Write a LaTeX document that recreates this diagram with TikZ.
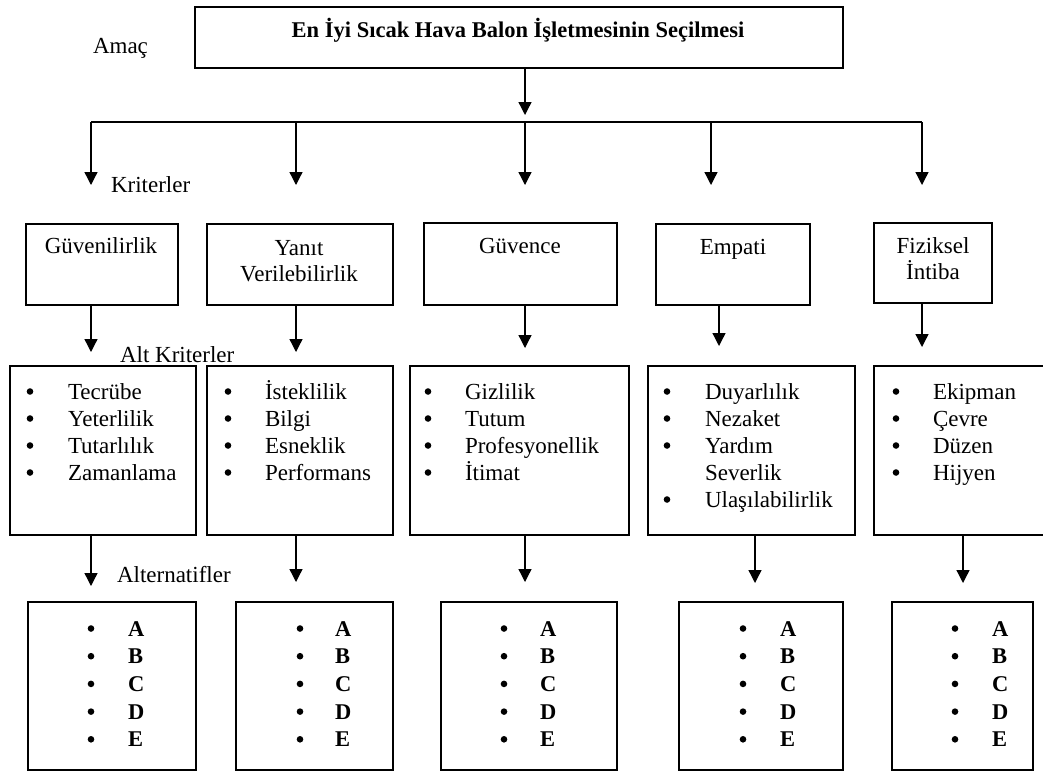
\documentclass[tikz,border=0pt]{standalone}
\usepackage{fontspec}
\setmainfont{Liberation Serif}
\usetikzlibrary{arrows.meta}

% box from (x1,y1) to (x2,y2), y grows downwards
\newcommand\ahpbox[5]{%
  \node[box,anchor=north west,minimum width={#4pt-#2pt},minimum height={#5pt-#3pt}] (#1) at (#2,#3) {};}
% list bullet, centred a little above the baseline #2
\newcommand\ahpdot[2]{\fill (#1,{#2-7.5}) circle (3.3);}

\tikzset{
  box/.style={draw,line width=1.5pt,inner sep=0pt,outer sep=0pt},
  txt/.style={inner sep=0pt,outer sep=0pt,anchor=base,font=\fontsize{23}{27}\selectfont},
  lbl/.style={txt,anchor=base west},
  bold/.style={font=\fontsize{22.5}{27}\selectfont\bfseries},
  arr/.style={line width=1.3pt,-{Triangle[length=13pt,width=13pt]}},
  link/.style={line width=1.3pt}
}

\begin{document}
\begin{tikzpicture}[x=1pt,y=-1pt]
\useasboundingbox (0,0) rectangle (1043,772);
\clip (0,0) rectangle (1043,772);

% goal
\ahpbox{goal}{195}{7}{843}{68}
\node[txt,bold] (goalt) at (518,37) {En İyi Sıcak Hava Balon İşletmesinin Seçilmesi};
\node[lbl] (amac) at (93,53) {Amaç};

% criteria boxes
\ahpbox{c1}{26}{224}{178}{305}
\ahpbox{c2}{207}{224}{393}{305}
\ahpbox{c3}{424}{223}{617}{305}
\ahpbox{c4}{656}{224}{810}{305}
\ahpbox{c5}{874}{223}{992}{303}
\node[txt] (c1t) at (101,253) {Güvenilirlik};
\node[txt] (c2t) at (299,255) {Yanıt};
\node[txt] (c2u) at (299,281) {Verilebilirlik};
\node[txt] (c3t) at (520,253) {Güvence};
\node[txt] (c4t) at (733,254) {Empati};
\node[txt] (c5t) at (933,253) {Fiziksel};
\node[txt] (c5u) at (933,279) {İntiba};
\node[lbl] (krit) at (111,192) {Kriterler};

% goal to criteria
\coordinate (bus) at (525,122);
\draw[arr] (goal.south -| bus) -- (525,115);
\coordinate (busL) at (91,122);
\coordinate (busR) at (922,122);
\draw[link] (busL) -- (busR);
\foreach \x in {91,296,525,711,922}
  \draw[arr] (\x,122) -- (\x,185);

% sub-criteria boxes
\ahpbox{s1}{10}{366}{196}{535}
\ahpbox{s2}{207}{366}{393}{535}
\ahpbox{s3}{410}{366}{629}{535}
\ahpbox{s4}{648}{366}{855}{535}
\ahpbox{s5}{874}{366}{1050}{535}
\node[lbl] (altk) at (120,362) {Alt Kriterler};

% criteria to sub-criteria
\coordinate (t1) at (91,352);
\coordinate (t2) at (296,352);
\coordinate (t3) at (525,348);
\coordinate (t4) at (719,346);
\coordinate (t5) at (922,347);
\foreach \i in {1,...,5}
  \draw[arr] (c\i.south -| t\i) -- (t\i);

% sub-criteria lists
\foreach \t [count=\i] in {Tecrübe,Yeterlilik,Tutarlılık,Zamanlama}{
  \ahpdot{30}{399+27*(\i-1)}
  \node[lbl] at (68,{399+27*(\i-1)}) {\t};}
\foreach \t [count=\i] in {İsteklilik,Bilgi,Esneklik,Performans}{
  \ahpdot{228}{399+27*(\i-1)}
  \node[lbl] at (265,{399+27*(\i-1)}) {\t};}
\foreach \t [count=\i] in {Gizlilik,Tutum,Profesyonellik,İtimat}{
  \ahpdot{428}{399+27*(\i-1)}
  \node[lbl] at (465,{399+27*(\i-1)}) {\t};}
\foreach \t/\k in {Duyarlılık/0,Nezaket/1,Yardım/2,Ulaşılabilirlik/4}{
  \ahpdot{667}{399+27*\k}
  \node[lbl] at (705,{399+27*\k}) {\t};}
\node[lbl] at (705,480) {Severlik};
\foreach \t [count=\i] in {Ekipman,Çevre,Düzen,Hijyen}{
  \ahpdot{896}{399+27*(\i-1)}
  \node[lbl] at (933,{399+27*(\i-1)}) {\t};}

% alternatives boxes
\ahpbox{a1}{28}{602}{196}{770}
\ahpbox{a2}{236}{602}{393}{770}
\ahpbox{a3}{441}{602}{617}{770}
\ahpbox{a4}{679}{602}{843}{770}
\ahpbox{a5}{892}{602}{1033}{770}
\node[lbl] (alts) at (117,582) {Alternatifler};

% sub-criteria to alternatives
\coordinate (u1) at (91,586);
\coordinate (u2) at (296,582);
\coordinate (u3) at (525,582);
\coordinate (u4) at (755,583);
\coordinate (u5) at (963,583);
\foreach \i in {1,...,5}
  \draw[arr] (s\i.south -| u\i) -- (u\i);

% alternatives lists
\foreach \bx/\lx in {91/128,300/335,504/540,743/780,955/992}
  \foreach \t [count=\i] in {A,B,C,D,E}{
    \ahpdot{\bx}{636+27.7*(\i-1)}
    \node[lbl,bold] at (\lx,{636+27.7*(\i-1)}) {\t};}
\end{tikzpicture}
\end{document}
